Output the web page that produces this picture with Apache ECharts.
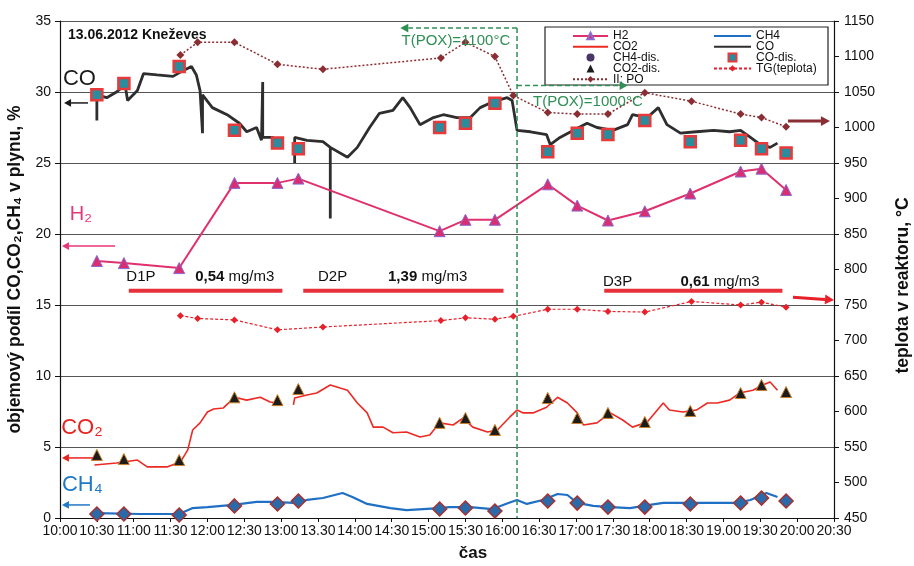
<!DOCTYPE html>
<html><head><meta charset="utf-8">
<script src="https://cdn.jsdelivr.net/npm/echarts/dist/echarts.min.js"></script>
<style>html,body{margin:0;padding:0;background:#fff}#c{width:914px;height:566px}</style>
</head><body><div id="c"></div>
<script>
// ---------- tick labels of the time axis ----------
const tickLabels = ['10:00','10:30','11:00','11:30','12:00','12:30','13:00','13.30','14:00','14:30','15:00','15:30','16:00','16:30','17:00','17:30','18:00','18:30','19.00','19:30','20:00','20:30'];

// ---------- continuous CO record (%) ----------
const coTime = ['10:30','10:30','10:38','10:46','10:53','10:55','11:03','11:08','11:19','11:32','11:38','11:47','11:51','11:54','11:56','11:56','12:04','12:16','12:26','12:32','12:40','12:44','12:45','12:45','12:53','12:57','13:05','13:11','13:11','13:21','13:34','13:40','13:40','13:40','13:54','14:02','14:12','14:20','14:31','14:39','14:45','14:53','15:04','15:12','15:23','15:34','15:42','15:52','16:04','16:08','16:12','16:23','16:36','16:39','16:47','16:58','17:09','17:17','17:30','17:42','17:46','17:58','18:07','18:14','18:25','18:38','18:52','19:05','19:14','19:22','19:30','19:38','19:44'];
const coValue = [28.0,29.8,29.6,30.0,30.5,29.4,30.1,31.3,31.2,31.1,31.4,31.8,31.2,30.1,27.1,29.8,28.9,28.4,27.8,27.2,27.5,26.6,30.7,26.8,26.8,26.6,null,25.0,26.8,26.6,26.5,26.1,21.1,26.1,25.4,26.1,27.5,28.5,28.7,29.6,28.9,27.7,28.2,28.4,28.2,28.2,28.9,29.3,29.6,29.4,27.3,27.2,27.0,26.3,26.8,27.3,27.8,27.5,27.3,27.7,28.4,28.2,28.9,27.7,27.1,27.2,27.3,27.2,27.3,26.8,26.3,26.1,26.4];

// ---------- continuous CO2 record (%) ----------
const co2Time = ['10:28','10:46','11:03','11:11','11:27','11:38','11:44','11:48','11:54','12:00','12:05','12:13','12:22','12:32','12:43','12:51','12:57','13:05','13:10','13:11','13:21','13:29','13:40','13:48','13:54','14:02','14:10','14:15','14:23','14:31','14:42','14:53','15:01','15:09','15:20','15:28','15:36','15:48','15:56','16:06','16:12','16:17','16:25','16:36','16:45','16:53','17:01','17:06','17:17','17:28','17:38','17:46','17:58','18:11','18:16','18:27','18:38','18:47','18:55','19:05','19:13','19:24','19:32','19:38','19:44'];
const co2Value = [3.73,3.87,4.08,3.6,3.6,3.94,4.8,6.2,6.7,7.46,7.68,7.75,8.5,8.3,8.5,8.17,8.1,null,7.96,8.45,8.66,8.8,9.37,9.15,9.0,8.1,7.4,6.4,6.4,6.0,6.06,5.7,5.85,6.7,6.55,7.04,6.4,6.06,6.2,7.1,7.6,7.4,7.4,7.8,8.5,8.1,7.4,6.55,6.7,7.4,6.9,6.4,6.76,8.1,7.6,7.46,7.6,8.1,8.1,8.3,8.8,9.0,9.37,9.58,9.0];

// ---------- continuous CH4 record (%) ----------
const ch4Time = ['10:30','11:05','11:37','11:48','12:00','12:21','12:40','12:53','13:10','13:21','13:34','13:50','13:58','14:10','14:29','14:42','15:09','15:17','15:34','15:52','16:05','16:12','16:20','16:33','16:45','16:53','17:01','17:14','17:28','17:44','18:00','18:11','18:33','18:55','19:11','19:22','19:35','19:44'];
const ch4Value = [0.35,0.28,0.28,0.7,0.77,0.92,1.13,1.13,1.06,1.27,1.41,1.76,1.48,0.99,0.70,0.56,0.70,0.77,0.77,0.63,1.06,1.27,0.99,1.27,1.69,1.62,1.06,0.85,0.77,0.70,0.92,1.06,1.06,1.06,1.06,1.27,1.76,1.48];

// ---------- discrete analyses (%) ----------
const sampleTime = ['10:30','10:52','11:37','12:22','12:57','13:14','15:09','15:30','15:54','16:37','17:01','17:26','17:56','18:33','19:14','19:31','19:51'];
const h2Value    = [18.1,17.95,17.6,23.6,23.6,23.9,20.2,21.0,21.0,23.5,22.0,20.95,21.6,22.85,24.4,24.6,23.1];
const coDis      = [29.8,30.6,31.8,27.3,26.4,26.0,27.5,27.8,29.2,25.8,27.1,27.0,28.0,26.5,26.6,26.0,25.7];
const co2Dis     = [4.44,4.15,4.08,8.5,8.3,9.08,6.7,7.04,6.2,8.45,7.04,7.4,6.76,7.54,8.8,9.37,8.87];
const ch4Dis     = [0.28,0.28,0.21,0.85,0.99,1.2,0.63,0.70,0.49,1.2,1.05,0.77,0.77,0.99,1.06,1.4,1.2];

// ---------- temperatures (°C) ----------
const tempTime = ['11:38','11:52','12:22','12:57','13:34','15:10','15:30','15:54','16:09','16:37','17:01','17:26','17:56','18:34','19:14','19:31','19:51'];
const tgValue  = [735,731,729,715,719,728,732,730,734,744,744,741,740,755,750,754,747];
const poValue  = [1102,1120,1120,1089,1082,1098,1120,1100,1045,1021,1019,1019,1049,1037,1019,1014,1001];

// ---------- helpers ----------
const T0 = 600, T1 = 1230;
function toMin(s){ const p = s.split(':'); return (+p[0])*60 + (+p[1]); }
function pairs(times, vals){ return times.map((t,i)=>[toMin(t), vals[i]==null ? '-' : vals[i]]); }

const FONT = 'Liberation Sans, Arial, sans-serif';
const chart = echarts.init(document.getElementById('c'));

const pathSquare = 'path://M0,0H10V10H0Z';
const pathTri = 'path://M5,0L10,10H0Z';
const pathCircle = 'path://M0,5A5,5 0 1,0 10,5A5,5 0 1,0 0,5Z';
const noDot = { opacity: 0 };
const legText = { fontSize: 12, color: '#111', fontFamily: FONT };

const option = {
  animation: false,
  backgroundColor: '#fff',
  textStyle: { fontFamily: FONT },
  title: { text: '13.06.2012 Kneževes', left: 63, top: 23,
    textStyle: { fontSize: 14, fontWeight: 'bold', color: '#111', fontFamily: FONT } },
  grid: { left: 60, right: 80, top: 21, bottom: 48, outerBoundsMode: 'none' },
  legend: [
    { data: [ 'H2', { name: 'CO2', itemStyle: noDot },
              { name: 'CH4-dis.', icon: pathCircle, itemStyle: { color: '#4a3566', borderWidth: 0 } },
              { name: 'CO2-dis.', icon: pathTri, itemStyle: { color: '#1c1c1c', borderWidth: 0 } }, 'II: PO' ],
      orient: 'vertical', left: 567, top: 25, itemWidth: 35, itemHeight: 8, itemGap: -1.2,
      textStyle: legText, z: 6 },
    { data: [ { name: 'CH4', itemStyle: noDot }, { name: 'CO', itemStyle: noDot },
              { name: 'CO-dis.', icon: pathSquare }, 'TG(teplota)' ],
      orient: 'vertical', left: 708, top: 25, itemWidth: 37, itemHeight: 8, itemGap: -1.2,
      textStyle: legText, z: 6 }
  ],
  xAxis: {
    type: 'value', min: T0, max: T1, interval: 30,
    axisLine: { show: true, lineStyle: { color: '#111', width: 1.2 } },
    axisTick: { show: true, length: 4, lineStyle: { color: '#111' } },
    splitLine: { show: false },
    axisLabel: { formatter: v => tickLabels[Math.round((v - T0) / 30)] || '',
      fontFamily: 'Liberation Sans Narrow, Arial Narrow, ' + FONT, fontSize: 14, color: '#111', margin: 6 },
    name: 'čas', nameLocation: 'middle', nameGap: 27,
    nameTextStyle: { fontWeight: 'bold', fontSize: 17, color: '#111', padding: [0,0,0,52] }
  },
  yAxis: [
    { type: 'value', min: 0, max: 35, interval: 5,
      axisLine: { show: true, lineStyle: { color: '#111', width: 1.2 } },
      axisTick: { show: true, length: 5, lineStyle: { color: '#111' } },
      splitLine: { show: true, lineStyle: { color: '#555', width: 1.2 } },
      axisLabel: { fontSize: 14, color: '#111', margin: 9, formatter: v => String(v) },
      name: 'objemový podíl CO,CO₂,CH₄ v plynu, %', nameLocation: 'middle', nameRotate: 90, nameGap: 32,
      nameTextStyle: { fontWeight: 'bold', fontSize: 17.5, color: '#111' } },
    { type: 'value', position: 'right', min: 450, max: 1150, interval: 50,
      axisLine: { show: true, lineStyle: { color: '#111', width: 1.2 } },
      axisTick: { show: true, length: 5, lineStyle: { color: '#111' } },
      splitLine: { show: false },
      axisLabel: { fontSize: 14, color: '#111', margin: 10, formatter: v => String(v) },
      name: 'teplota v reaktoru, °C', nameLocation: 'middle', nameRotate: 90, nameGap: 60,
      nameTextStyle: { fontWeight: 'bold', fontSize: 17.5, color: '#111', padding: [0,32,0,0] } }
  ],
  series: [
    { name: 'TG(teplota)', type: 'line', yAxisIndex: 1, data: pairs(tempTime, tgValue),
      symbol: 'diamond', symbolSize: 7, showSymbol: true,
      itemStyle: { color: '#e8202a' }, lineStyle: { color: '#e8202a', width: 1.2, type: [3,2] }, z: 2 },
    { name: 'II: PO', type: 'line', yAxisIndex: 1, data: pairs(tempTime, poValue),
      symbol: 'diamond', symbolSize: 8, showSymbol: true,
      itemStyle: { color: '#8b2e34' }, lineStyle: { color: '#8b2e34', width: 1.5, type: [2,2] }, z: 2 },
    { name: 'CH4', type: 'line', data: pairs(ch4Time, ch4Value), symbol: 'none',
      itemStyle: { color: '#1f70c4' }, lineStyle: { color: '#1f70c4', width: 2.2 }, z: 3 },
    { name: 'CO2', type: 'line', data: pairs(co2Time, co2Value), symbol: 'none',
      itemStyle: { color: '#ec2a24' }, lineStyle: { color: '#ec2a24', width: 1.6 }, z: 3 },
    { name: 'CO', type: 'line', data: pairs(coTime, coValue), symbol: 'none',
      itemStyle: { color: '#2e2e2e' }, lineStyle: { color: '#2e2e2e', width: 2.8 }, z: 3 },
    { name: 'H2', type: 'line', data: pairs(sampleTime, h2Value),
      symbol: 'triangle', symbolSize: 11, showSymbol: true,
      itemStyle: { color: '#d92e72', borderColor: '#8a6ad0', borderWidth: 1 },
      lineStyle: { color: '#e0306e', width: 2 }, z: 4 },
    { name: 'CH4-dis.', type: 'scatter', data: pairs(sampleTime, ch4Dis),
      symbol: 'diamond', symbolSize: 14,
      itemStyle: { color: '#2a6aa8', borderColor: '#a83030', borderWidth: 1.5, opacity: 1 }, z: 5 },
    { name: 'CO2-dis.', type: 'scatter', data: pairs(sampleTime, co2Dis),
      symbol: 'triangle', symbolSize: 11,
      itemStyle: { color: '#1c1c1c', borderColor: '#c8802a', borderWidth: 1, opacity: 1 }, z: 5 },
    { name: 'CO-dis.', type: 'scatter', data: pairs(sampleTime, coDis),
      symbol: 'rect', symbolSize: 11,
      itemStyle: { color: '#2a8c9c', borderColor: '#e83a3a', borderWidth: 2.5, opacity: 1 }, z: 5 }
  ]
};
chart.setOption(option);

// ---------- annotations, placed through the axes' scales ----------
const L = (t, v) => chart.convertToPixel({ xAxisIndex: 0, yAxisIndex: 0 }, [t, v]);
const R = (t, v) => chart.convertToPixel({ xAxisIndex: 0, yAxisIndex: 1 }, [t, v]);

function arrow(p1, p2, color, w, head, z){
  const dx = p2[0]-p1[0], dy = p2[1]-p1[1], len = Math.hypot(dx, dy), ux = dx/len, uy = dy/len;
  const hw = head * 0.55, bx = p2[0]-ux*head, by = p2[1]-uy*head;
  return [
    { type: 'line', z: z||10, shape: { x1: p1[0], y1: p1[1], x2: bx, y2: by }, style: { stroke: color, lineWidth: w } },
    { type: 'polygon', z: z||10, shape: { points: [[p2[0],p2[1]],[bx-uy*hw,by+ux*hw],[bx+uy*hw,by-ux*hw]] }, style: { fill: color } }
  ];
}
function dashedArrow(p1, p2, color, w, head){
  const a = arrow(p1, p2, color, w, head);
  a[0].style.lineDash = [5,3];
  return a;
}
function text(p, str, color, size, weight, align, rich){
  return { type: 'text', z: 11, x: p[0], y: p[1],
    style: { text: str, fill: color, fontSize: size, fontWeight: weight || 'normal', fontFamily: FONT,
      align: align || 'left', verticalAlign: 'middle', rich: rich } };
}

const GREEN = '#2f8f55', RED = '#e8303a';
const poxSwitch = 972;           // 16:12 vertical marker
const els = [];
// legend frame
els.push({ type: 'rect', z: 3, shape: { x: 545, y: 27, width: 283, height: 58 },
  style: { fill: '#fff', stroke: '#222', lineWidth: 1.2 } });
// green T(POX) frame
const gTop = L(poxSwitch, 34.5), gBot = L(poxSwitch, 0);
els.push({ type: 'line', z: 10, shape: { x1: gTop[0], y1: gTop[1], x2: gBot[0], y2: gBot[1] },
  style: { stroke: GREEN, lineWidth: 1.5, lineDash: [5,3] } });
els.push(...dashedArrow(L(poxSwitch, 34.5), L(877, 34.5), GREEN, 1.5, 8));
els.push(...dashedArrow(L(poxSwitch, 30.45), L(1062, 30.45), GREEN, 1.5, 8));
els.push(text(L(878, 33.6), 'T(POX)=1100°C', GREEN, 15));
els.push(text(L(985, 29.3), 'T(POX)=1000°C', GREEN, 15));
// dust measurement periods
const bars = [[656, 781], [798, 961], [1043, 1188]];
bars.forEach(b => { const a = L(b[0], 16.0), c = L(b[1], 16.0);
  els.push({ type: 'line', z: 9, shape: { x1: a[0], y1: a[1], x2: c[0], y2: c[1] }, style: { stroke: RED, lineWidth: 4 } }); });
const rb = { b: { fontWeight: 'bold', fontSize: 15, fill: '#111', fontFamily: FONT }, n: { fontSize: 15, fill: '#111', fontFamily: FONT } };
els.push(text(L(654, 17.0), 'D1P', '#111', 15));
els.push(text(L(710, 17.0), '{b|0,54} {n|mg/m3}', '#111', 15, 'normal', 'left', rb));
els.push(text(L(810, 17.0), 'D2P', '#111', 15));
els.push(text(L(867, 17.0), '{b|1,39} {n|mg/m3}', '#111', 15, 'normal', 'left', rb));
els.push(text(L(1042, 16.6), 'D3P', '#111', 15));
els.push(text(L(1105, 16.6), '{b|0,61} {n|mg/m3}', '#111', 15, 'normal', 'left', rb));
// series labels and axis pointers
els.push(text(L(602.4, 30.9), 'CO', '#1a1a1a', 22));
els.push(...arrow(L(622.8, 29.23), L(603.3, 29.23), '#1a1a1a', 1.5, 7));
els.push(text(L(608, 21.4), 'H₂', '#e8357a', 20));
els.push(...arrow(L(644.8, 19.15), L(601.6, 19.15), '#e8357a', 1.5, 7));
els.push(text(L(601, 6.34), 'CO₂', '#e8231f', 22));
els.push(...arrow(L(626.9, 4.23), L(601.6, 4.23), '#e8231f', 1.5, 7));
els.push(text(L(601.6, 2.32), 'CH₄', '#1f78c8', 22));
els.push(...arrow(L(624.4, 0.92), L(601.6, 0.92), '#1f78c8', 1.5, 7));
els.push(...arrow(R(1192.5, 1009), R(1226.7, 1009), '#8b2e34', 3, 9));
els.push(...arrow(R(1196.6, 761), R(1230, 757), '#e8202a', 3, 9));

chart.setOption({ graphic: { elements: els } });
</script>
</body></html>
